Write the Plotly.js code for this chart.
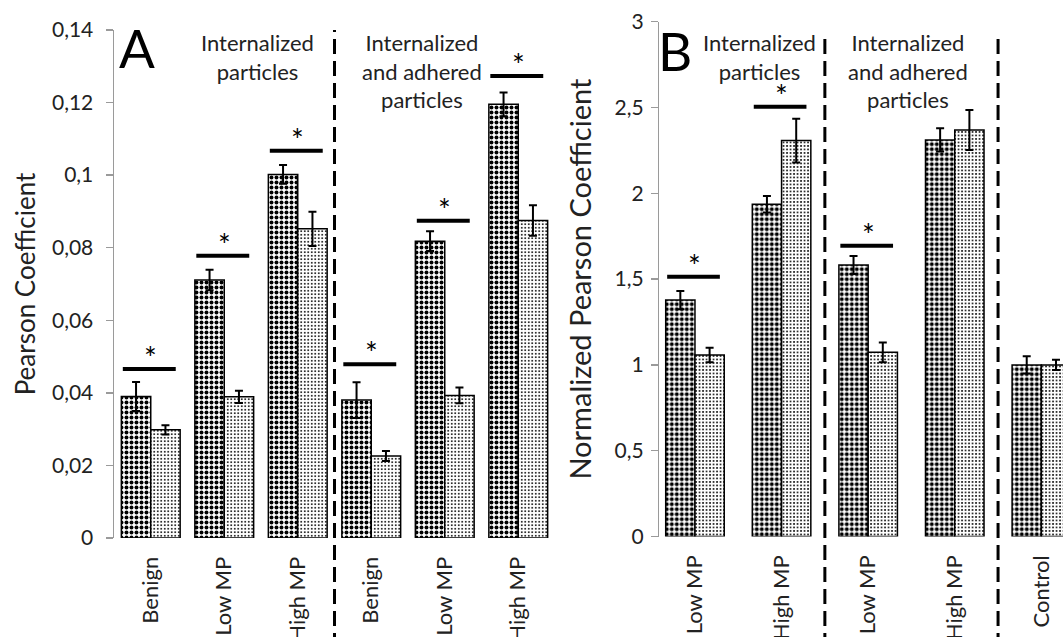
<!DOCTYPE html>
<html>
<head>
<meta charset="utf-8">
<script src="https://cdn.plot.ly/plotly-3.0.1.min.js"></script>
<style>html,body{margin:0;padding:0;background:#fff;}#chart{width:1063px;height:637px;}</style>
</head>
<body>
<div id="chart"></div>
<script>
// ---- Panel A data ----
var catsA = ['Benign', 'Low MP', 'High MP', 'Benign', 'Low MP', 'High MP'];
var darkA = [0.0390, 0.0711, 0.1002, 0.0380, 0.0818, 0.1195];
var darkErrA = [0.0040, 0.0028, 0.0026, 0.0049, 0.0027, 0.0033];
var lightA = [0.0298, 0.0389, 0.0852, 0.0226, 0.0393, 0.0875];
var lightErrA = [0.0013, 0.0017, 0.0047, 0.0014, 0.0022, 0.0042];
var sigIdxA = [0, 1, 2, 3, 4, 5];
var sigYA = [0.0466, 0.0778, 0.1067, 0.0479, 0.0874, 0.1273];

// ---- Panel B data ----
var catsB = ['Low MP', 'High MP', 'Low MP', 'High MP', 'Control'];
var darkB = [1.378, 1.936, 1.582, 2.311, 1.000];
var darkErrB = [0.053, 0.048, 0.052, 0.068, 0.050];
var lightB = [1.058, 2.307, 1.073, 2.369, 1.000];
var lightErrB = [0.042, 0.127, 0.057, 0.117, 0.030];
var sigIdxB = [0, 1, 2];
var sigYB = [1.514, 2.505, 1.695];

var groupLabels = ['Internalized<br>particles', 'Internalized<br>and adhered<br>particles'];

var FONT = 'Lato, "Open Sans", sans-serif';
var TXT = '#222';
var wA = 0.4, wB = 0.338;

function idx(a) { return a.map(function (_, i) { return i; }); }

var darkPattern = {shape: '.', fgcolor: 'black', bgcolor: 'white', size: 5, solidity: 0.5};
var lightPattern = {shape: '.', fgcolor: 'black', bgcolor: 'white', size: 3.5, solidity: 0.24};

function barTrace(xs, ys, errs, w, off, pat, xa, ya) {
  return {
    type: 'bar', x: xs, y: ys, width: w, offset: off, xaxis: xa, yaxis: ya,
    marker: {color: 'white', line: {color: 'black', width: 1.5}, pattern: pat},
    error_y: {type: 'data', array: errs, visible: true, color: 'black', thickness: 2, width: 4},
    hoverinfo: 'skip', showlegend: false
  };
}

var data = [
  barTrace(idx(catsA), darkA, darkErrA, wA, -wA, darkPattern, 'x', 'y'),
  barTrace(idx(catsA), lightA, lightErrA, wA, 0, lightPattern, 'x', 'y'),
  barTrace(idx(catsB), darkB, darkErrB, wB, -wB, darkPattern, 'x2', 'y2'),
  barTrace(idx(catsB), lightB, lightErrB, wB, 0, lightPattern, 'x2', 'y2')
];

var shapes = [];
var annotations = [];

function addSig(indices, ys, w, xr, yr) {
  indices.forEach(function (i, k) {
    shapes.push({type: 'line', xref: xr, yref: yr, x0: i - w * 0.95, x1: i + w * 0.85,
      y0: ys[k], y1: ys[k], line: {color: 'black', width: 4}});
    annotations.push({xref: xr, yref: yr, x: i, y: ys[k], text: '*', showarrow: false,
      xanchor: 'center', yanchor: 'middle', yshift: 12,
      font: {family: FONT, size: 30, color: 'black'}});
  });
}
addSig(sigIdxA, sigYA, wA, 'x', 'y');
addSig(sigIdxB, sigYB, wB, 'x2', 'y2');

// dashed separators
[[2.5, 'x', 0.981], [1.5, 'x2', 0.977], [3.5, 'x2', 0.977]].forEach(function (d) {
  shapes.push({type: 'line', xref: d[1], yref: 'paper', x0: d[0], x1: d[0], y0: -0.25, y1: d[2],
    line: {color: 'black', width: 3, dash: '15px,7px'}});
});

// panel letters
annotations.push({xref: 'x', yref: 'paper', x: -0.187, y: 0.948, text: 'A', showarrow: false,
  xanchor: 'center', yanchor: 'middle', font: {family: FONT, size: 53, color: 'black'}});
annotations.push({xref: 'x2', yref: 'paper', x: -0.225, y: 0.942, text: 'B', showarrow: false,
  xanchor: 'center', yanchor: 'middle', font: {family: FONT, size: 53, color: 'black'}});

// group labels
[[1.45, 'x', 0], [3.686, 'x', 1], [0.75, 'x2', 0], [2.46, 'x2', 1]].forEach(function (g) {
  annotations.push({xref: g[1], yref: 'paper', x: g[0], y: 0.9865, text: groupLabels[g[2]],
    showarrow: false, xanchor: 'center', yanchor: 'top', align: 'center',
    font: {family: FONT, size: 22, color: TXT}});
});

var yCommon = {
  showgrid: false, zeroline: false, showline: true, linecolor: '#9a9a9a', linewidth: 1.5,
  ticks: 'outside', ticklen: 7, tickcolor: '#9a9a9a', tickwidth: 1.5,
  tickfont: {family: FONT, size: 21, color: TXT}
};
var xCommon = {
  showgrid: false, zeroline: false, showline: false,
  ticks: 'outside', ticklen: 9, tickcolor: 'rgba(0,0,0,0)', tickangle: -90,
  tickfont: {family: FONT, size: 22, color: TXT}
};

var layout = {
  width: 1063, height: 637,
  margin: {l: 114, r: 0, t: 20, b: 97},
  paper_bgcolor: 'white', plot_bgcolor: 'white',
  separators: ', ',
  barmode: 'overlay',
  font: {family: FONT, color: TXT},
  xaxis: Object.assign({}, xCommon, {domain: [0, 0.4647], range: [-0.5, 5.5], anchor: 'y',
    tickmode: 'array', tickvals: idx(catsA), ticktext: catsA}),
  yaxis: Object.assign({}, yCommon, {domain: [0.00385, 0.9808], range: [0, 0.14], dtick: 0.02, anchor: 'x',
    ticklabelstandoff: 8,
    title: {text: 'Pearson Coefficient', font: {family: FONT, size: 26, color: TXT}, standoff: 9}}),
  xaxis2: Object.assign({}, xCommon, {domain: [0.5746, 1], range: [-0.412, 4.25], anchor: 'y2',
    tickmode: 'array', tickvals: idx(catsB), ticktext: catsB}),
  yaxis2: Object.assign({}, yCommon, {domain: [0.00673, 0.99673], range: [0, 3], dtick: 0.5, anchor: 'x2',
    ticklabelstandoff: 3,
    title: {text: 'Normalized Pearson Coefficient', font: {family: FONT, size: 29, color: TXT}, standoff: 14}}),
  shapes: shapes,
  annotations: annotations,
  showlegend: false
};

Plotly.newPlot('chart', data, layout, {staticPlot: true, displayModeBar: false});
</script>
</body>
</html>
